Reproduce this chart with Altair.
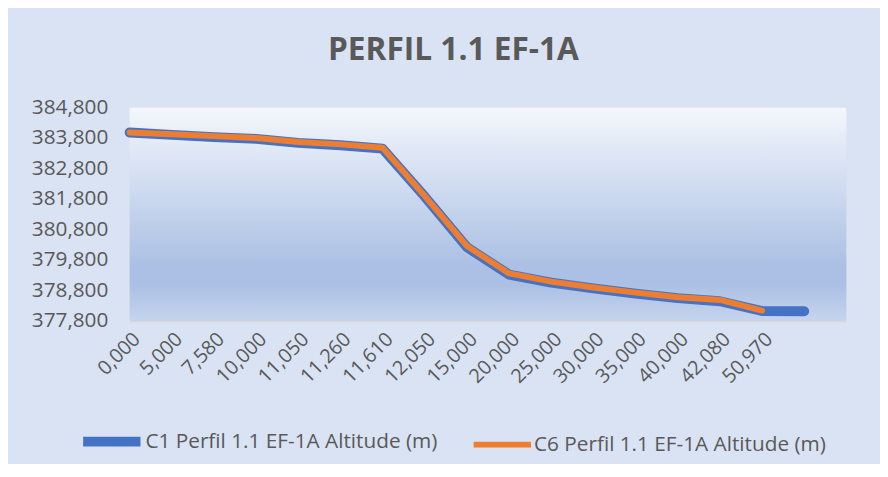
import altair as alt
import pandas as pd

# ---- data ----
x_labels = ["0,000", "5,000", "7,580", "10,000", "11,050", "11,260", "11,610",
            "12,050", "15,000", "20,000", "25,000", "30,000", "35,000",
            "40,000", "42,080", "50,970"]
c1_values = [383.98, 383.90, 383.83, 383.77, 383.64, 383.56, 383.45, 381.88,
             380.22, 379.32, 379.06, 378.87, 378.70, 378.55, 378.45, 378.13,
             378.12]
c6_values = [383.98, 383.92, 383.86, 383.80, 383.67, 383.59, 383.48, 381.90,
             380.26, 379.36, 379.09, 378.90, 378.73, 378.58, 378.49, 378.14]
series_names = ["C1 Perfil 1.1 EF-1A Altitude (m)",
                "C6 Perfil 1.1 EF-1A Altitude (m)"]
y_ticks = [377.8, 378.8, 379.8, 380.8, 381.8, 382.8, 383.8, 384.8]
n_slots = 18  # category slots on the axis (last two unlabeled)

rows = []
for i, v in enumerate(c1_values):
    rows.append({"idx": i, "alt": v, "series": series_names[0]})
for i, v in enumerate(c6_values):
    rows.append({"idx": i, "alt": v, "series": series_names[1]})
df = pd.DataFrame(rows)

W, H = 725, 216
FONT = "Open Sans"
GREY = "#595959"

label_js = "[" + ",".join("'" + s + "'" for s in x_labels) + "]"

bg = alt.Chart(pd.DataFrame({"a": [0]})).mark_rect(
    color=alt.Gradient(
        gradient="linear",
        stops=[
            alt.GradientStop(color="#F4F7FC", offset=0),
            alt.GradientStop(color="#ABC0E4", offset=0.74),
            alt.GradientStop(color="#ABC0E4", offset=0.83),
            alt.GradientStop(color="#C6D4EE", offset=1),
        ],
        x1=0, x2=0, y1=0, y2=1,
    )
).encode(x=alt.value(0), x2=alt.value(W), y=alt.value(0), y2=alt.value(H))

legend_kw = dict(
    title=None,
    orient="none",
    legendX=-52,
    legendY=304,
    direction="horizontal",
    symbolType="stroke",
    symbolSize=3364,
    labelOffset=0,
    columnPadding=24,
    gridAlign="all",
    labelFont=FONT,
    labelFontSize=21,
    labelColor=GREY,
    labelLimit=400,
)

lines = alt.Chart(df).mark_line(strokeCap="round", strokeJoin="round").encode(
    x=alt.X(
        "idx:Q",
        scale=alt.Scale(domain=[0, n_slots - 1], nice=False, zero=False),
        axis=alt.Axis(
            values=list(range(n_slots)),
            labelExpr=label_js + "[datum.value] || ''",
            labelAngle=-45,
            labelFont=FONT,
            labelFontSize=20,
            labelColor=GREY,
            labelPadding=8,
            labelOverlap=False,
            grid=False,
            ticks=False,
            domainColor="#D9D9D9",
            domainWidth=1.5,
            title=None,
        ),
    ),
    y=alt.Y(
        "alt:Q",
        scale=alt.Scale(domain=[377.8, 384.8], nice=False, zero=False),
        axis=alt.Axis(
            values=y_ticks,
            labelExpr="replace(format(datum.value, '.3f'), '.', ',')",
            labelFont=FONT,
            labelFontSize=21,
            labelColor=GREY,
            labelPadding=22,
            grid=True,
            gridColor="#D9D9D9",
            gridWidth=1.5,
            domain=False,
            ticks=False,
            title=None,
        ),
    ),
    color=alt.Color(
        "series:N",
        scale=alt.Scale(domain=series_names, range=["#4472C4", "#ED7D31"]),
        legend=alt.Legend(**legend_kw),
    ),
    strokeWidth=alt.StrokeWidth(
        "series:N",
        scale=alt.Scale(domain=series_names, range=[10, 6]),
        legend=alt.Legend(**legend_kw),
    ),
)

chart = alt.layer(bg, lines).properties(
    width=W,
    height=H,
    padding={"left": 23, "top": 24, "right": 19, "bottom": 0},
    title=alt.Title(
        "PERFIL 1.1 EF-1A",
        font=FONT,
        fontSize=32,
        fontWeight="bold",
        color=GREY,
        anchor="middle",
        dx=-35,
        offset=30,
    ),
).configure(background="#DAE3F3").configure_view(strokeWidth=0)

chart.save("out.html", embed_options={"renderer": "svg", "actions": False})
